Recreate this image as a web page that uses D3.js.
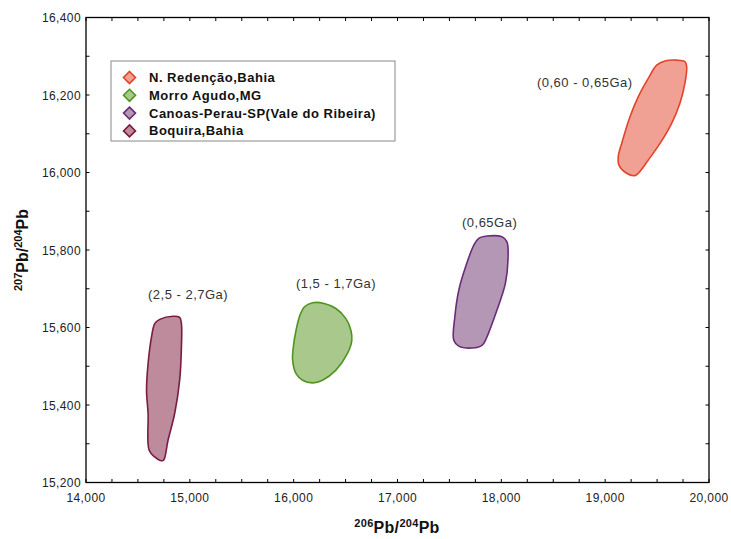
<!DOCTYPE html>
<html><head><meta charset="utf-8">
<script src="https://cdn.jsdelivr.net/npm/d3@7"></script>
<style>
body{margin:0;background:#fff;}
text{font-family:"Liberation Sans",Arial,Helvetica,sans-serif;}
</style></head>
<body><svg id="c" width="731" height="539"></svg>
<script>
const seriesNames = ["N. Redenção,Bahia","Morro Agudo,MG","Canoas-Perau-SP(Vale do Ribeira)","Boquira,Bahia"];
const strokeColors = ["#e4432b","#4f951f","#6a2c79","#7a1b44"];
const fillColors = ["#f0a193","#a9c98c","#b497b5","#bd8b9c"];
const ageLabels = ["(0,60 - 0,65Ga)","(1,5 - 1,7Ga)","(0,65Ga)","(2,5 - 2,7Ga)"];
const labelPos = [[18343,16221],[16022,15702],[17621,15859],[14597,15674]];
const xTicks = [14000,15000,16000,17000,18000,19000,20000];
const yTicks = [15200,15400,15600,15800,16000,16200,16400];

const redencao = [[19496,16277],[19576,16288],[19688,16290],[19768,16286],[19785,16273],[19768,16230],[19720,16179],[19640,16127],[19528,16075],[19415,16032],[19319,15998],[19287,15992],[19207,15998],[19133,16019],[19126,16041],[19159,16075],[19239,16144],[19319,16196],[19415,16243]];
const morroAgudo = [[16102,15653],[16182,15664],[16294,15662],[16407,15649],[16503,15623],[16551,15593],[16560,15567],[16518,15533],[16407,15490],[16278,15464],[16182,15457],[16086,15464],[16023,15481],[15990,15516],[15997,15550],[16023,15593],[16061,15632]];
const canoas = [[17782,15830],[17862,15836],[18006,15834],[18054,15821],[18064,15774],[18039,15714],[17958,15645],[17847,15567],[17814,15554],[17718,15547],[17590,15552],[17542,15567],[17552,15627],[17590,15696],[17655,15756],[17734,15812]];
const boquira = [[14662,15610],[14710,15621],[14838,15629],[14902,15626],[14919,15610],[14919,15550],[14902,15464],[14854,15378],[14790,15309],[14749,15258],[14727,15256],[14662,15266],[14608,15283],[14598,15378],[14583,15438],[14598,15507],[14631,15576]];
const shapes = [redencao, morroAgudo, canoas, boquira];

const svg = d3.select("#c");
const L=86, R=709, T=17.5, B=482.5;
const x = d3.scaleLinear().domain([14000,20000]).range([L,R]);
const y = d3.scaleLinear().domain([15200,16400]).range([B,T]);

// shapes
const line = d3.line().x(d=>x(d[0])).y(d=>y(d[1])).curve(d3.curveCatmullRomClosed.alpha(0.5));
shapes.forEach((s,i)=>{
  svg.append("path").attr("d",line(s)).attr("fill",fillColors[i]).attr("stroke",strokeColors[i]).attr("stroke-width",1.6);
});

// age labels
ageLabels.forEach((t,i)=>{
  svg.append("text").attr("x",x(labelPos[i][0])).attr("y",y(labelPos[i][1])).attr("font-size",13).attr("letter-spacing",0.5).attr("fill","#333").text(t);
});

// axes
const fmt = d3.format(",");
const minorX = d3.range(14000,20001,250);
const minorY = d3.range(15200,16401,100);
const g = svg.append("g");
const tk = 3.5;
minorX.forEach(v=>{
  g.append("line").attr("x1",x(v)).attr("x2",x(v)).attr("y1",B).attr("y2",B-tk).attr("stroke","#000");
  g.append("line").attr("x1",x(v)).attr("x2",x(v)).attr("y1",T).attr("y2",T+tk).attr("stroke","#000");
});
minorY.forEach(v=>{
  g.append("line").attr("y1",y(v)).attr("y2",y(v)).attr("x1",L).attr("x2",L+tk).attr("stroke","#000");
  g.append("line").attr("y1",y(v)).attr("y2",y(v)).attr("x1",R).attr("x2",R-tk).attr("stroke","#000");
});
svg.append("rect").attr("x",L).attr("y",T).attr("width",R-L).attr("height",B-T).attr("fill","none").attr("stroke","#000").attr("stroke-width",1.3);

xTicks.forEach(v=>{
  svg.append("text").attr("x",x(v)).attr("y",B+19).attr("text-anchor","middle").attr("font-size",12).attr("letter-spacing",0.4).attr("fill","#222").text(fmt(v));
});
yTicks.forEach(v=>{
  svg.append("text").attr("x",L-5).attr("y",y(v)+4.5).attr("text-anchor","end").attr("font-size",12).attr("letter-spacing",0.4).attr("fill","#222").text(fmt(v));
});

// axis titles
const xt = svg.append("text").attr("x",397).attr("y",533).attr("text-anchor","middle").attr("font-weight","bold").attr("font-size",16).attr("letter-spacing",0.3).attr("fill","#111");
xt.append("tspan").attr("font-size",11).attr("dy",-6).text("206");
xt.append("tspan").attr("dy",6).text("Pb/");
xt.append("tspan").attr("font-size",11).attr("dy",-6).text("204");
xt.append("tspan").attr("dy",6).text("Pb");

const yt = svg.append("text").attr("transform","translate(28,250) rotate(-90)").attr("text-anchor","middle").attr("font-weight","bold").attr("font-size",16).attr("fill","#111");
yt.append("tspan").attr("font-size",11).attr("dy",-6).text("207");
yt.append("tspan").attr("dy",6).text("Pb/");
yt.append("tspan").attr("font-size",11).attr("dy",-6).text("204");
yt.append("tspan").attr("dy",6).text("Pb");

// legend
const lg = svg.append("g");
lg.append("rect").attr("x",111).attr("y",61).attr("width",284).attr("height",80).attr("fill","#fff").attr("stroke","#888").attr("stroke-width",1);
seriesNames.forEach((n,i)=>{
  const cy = 77.5 + i*17.8, cx = 129.5;
  lg.append("path").attr("d",`M${cx},${cy-6}L${cx+6},${cy}L${cx},${cy+6}L${cx-6},${cy}Z`).attr("fill",fillColors[i]).attr("stroke",strokeColors[i]).attr("stroke-width",1.6);
  lg.append("text").attr("x",149).attr("y",cy+4.5).attr("font-size",13).attr("letter-spacing",0.5).attr("font-weight","bold").attr("fill","#111").text(n);
});
</script></body></html>
